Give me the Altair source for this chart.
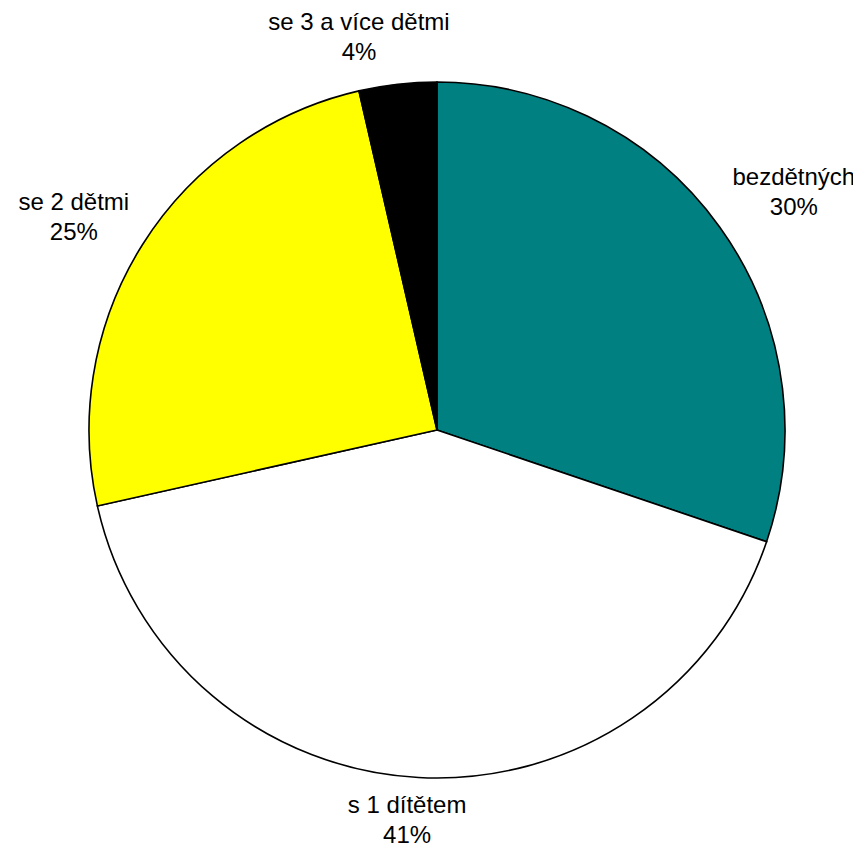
import altair as alt
import pandas as pd

categories = ["bezdětných", "s 1 dítětem", "se 2 dětmi", "se 3 a více dětmi"]
values = [30.2, 41.3, 24.9, 3.6]
pct_labels = ["30%", "41%", "25%", "4%"]
colors = ["#008080", "#FFFFFF", "#FFFF00", "#000000"]

df = pd.DataFrame({
    "kategorie": categories,
    "hodnota": values,
    "popis": [[c, p] for c, p in zip(categories, pct_labels)],
    "poradi": list(range(len(categories))),
})

base = alt.Chart(df).encode(
    theta=alt.Theta("hodnota:Q", stack=True),
    order=alt.Order("poradi:O", sort="ascending"),
)

pie = base.mark_arc(radius=348, stroke="black", strokeWidth=1.6).encode(
    color=alt.Color("kategorie:N", scale=alt.Scale(domain=categories, range=colors), legend=None),
)

# label style per category: radius and small nudges
label_style = {
    "bezdětných": dict(radius=428, dx=9, dy=-3),
    "s 1 dítětem": dict(radius=392, dx=-9, dy=-15),
    "se 2 dětmi": dict(radius=421, dx=-7, dy=-3),
    "se 3 a více dětmi": dict(radius=399, dx=-33, dy=-11),
}

# stacked angles are computed over all rows, then one label is shown per layer
stacked = alt.Chart(df).transform_window(
    cum="sum(hodnota)", sort=[alt.SortField("poradi", order="ascending")]
).transform_joinaggregate(total="sum(hodnota)").transform_calculate(
    mid="(datum.cum - datum.hodnota / 2) / datum.total * 2 * PI"
)

layers = [pie]
for cat in categories:
    st = label_style[cat]
    layers.append(
        stacked.transform_filter(alt.datum.kategorie == cat).mark_text(
            radius=st["radius"], dx=st["dx"], dy=st["dy"],
            font="Liberation Sans", fontSize=24, lineHeight=30,
            align="center", baseline="middle", color="black",
        ).encode(
            theta=alt.Theta("mid:Q", scale=None),
            text="popis",
        )
    )

chart = alt.layer(*layers).properties(
    width=832, height=830,
    padding={"left": 13, "top": 7, "right": 0, "bottom": 0},
    autosize=alt.AutoSizeParams(type="none"),
).configure_view(stroke=None)

chart.save("out.html", embed_options={"renderer": "svg", "actions": False})
